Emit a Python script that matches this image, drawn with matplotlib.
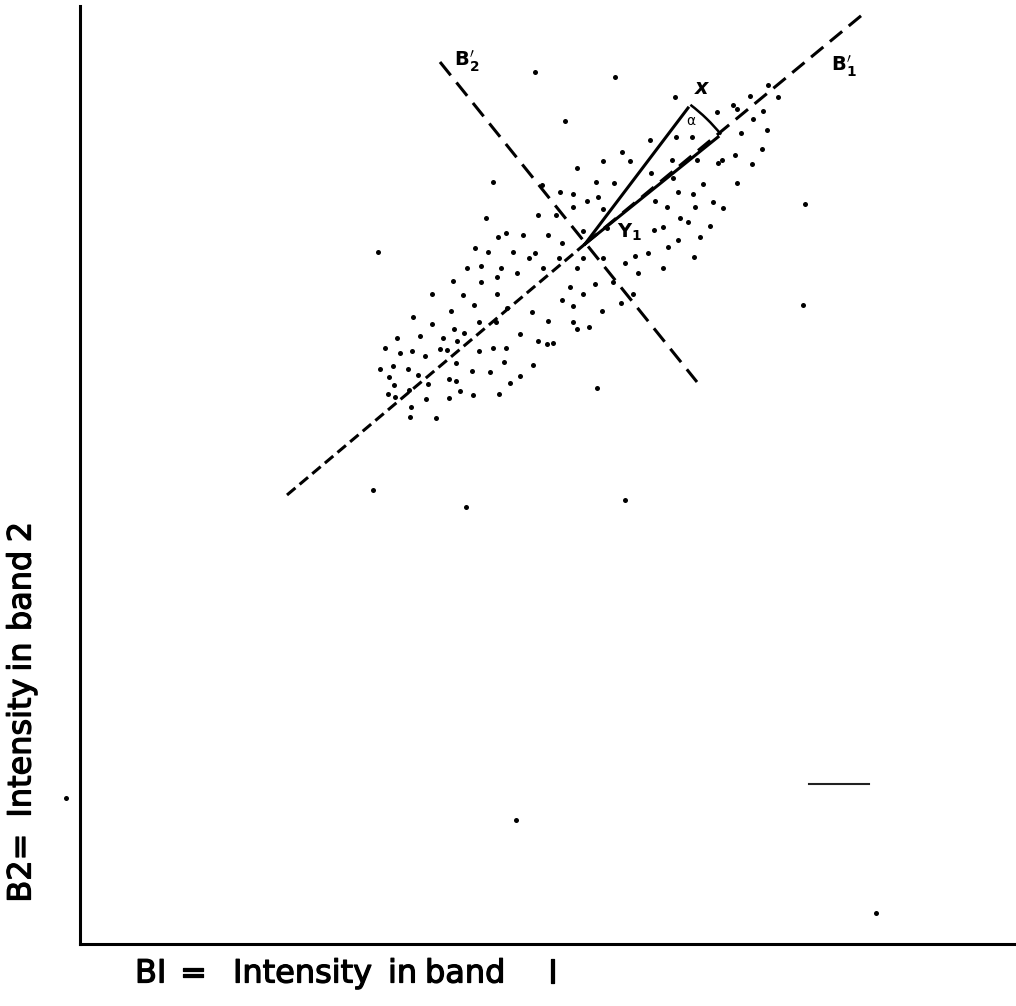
import numpy as np
import matplotlib
matplotlib.use("Agg")
import matplotlib.pyplot as plt
import matplotlib.patheffects as pe
from matplotlib.patches import Arc

# ---- data (intensity units: band 1 on x, band 2 on y) ----
cluster_b1 = [595, 637, 653, 657, 670, 688, 698, 683, 673, 687, 661, 570, 596, 612, 642,
              542, 523, 550, 497, 592, 617, 638, 655, 672, 682, 413, 516, 534, 571, 593,
              462, 480, 493, 507, 518, 598, 613, 623, 657, 575, 587, 615, 633, 643, 493,
              458, 476, 523, 406, 600, 608, 418, 426, 443, 468, 503, 527, 574, 583, 630,
              395, 408, 433, 455, 449, 482, 620, 598, 588, 568, 555, 614, 479, 503, 523,
              387, 401, 421, 437, 417, 463, 497, 545, 558, 583, 373, 401, 490, 515, 533,
              352, 383, 417, 503, 553, 541, 394, 482, 493, 522, 333, 371, 452, 427, 352,
              399, 416, 468, 493, 497, 509, 374, 384, 440, 317, 340, 363, 377, 458, 467,
              473, 305, 320, 332, 360, 367, 413, 426, 399, 313, 328, 345, 376, 424, 453,
              300, 309, 338, 369, 392, 410, 440, 430, 314, 348, 376, 517, 308, 315, 380,
              393, 419, 329, 346, 369, 331, 330, 356]
cluster_b2 = [847, 832, 839, 835, 848, 859, 847, 833, 825, 814, 811, 804, 807, 807, 784,
              792, 783, 783, 776, 784, 784, 781, 789, 780, 795, 762, 762, 761, 771, 766,
              759, 752, 750, 743, 747, 752, 750, 760, 761, 743, 737, 737, 742, 736, 737,
              729, 729, 735, 726, 726, 722, 707, 711, 709, 709, 713, 716, 714, 717, 718,
              696, 692, 692, 691, 686, 701, 707, 704, 697, 691, 688, 687, 686, 686, 686,
              676, 678, 676, 671, 667, 676, 676, 681, 671, 676, 663, 662, 657, 660, 662,
              650, 649, 650, 650, 650, 641, 639, 644, 638, 633, 627, 633, 632, 636, 620,
              622, 622, 623, 622, 615, 617, 615, 611, 610, 606, 608, 606, 603, 603, 600,
              601, 596, 591, 593, 595, 594, 596, 596, 593, 578, 575, 588, 581, 582, 579,
              575, 567, 569, 565, 573, 572, 568, 561, 559, 560, 563, 556, 550, 547, 553,
              549, 550, 554, 545, 546, 537, 527, 526]

outlier_b1 = [455, 535, 485, 298, 725, 723, 293, 386, 545, 436, 796, -14]
outlier_b2 = [872, 867, 823, 692, 740, 639, 454, 437, 444, 124, 31, 146]

# principal axes B1' and B2' (end points) and their crossing (cluster mean)
center = (505, 700)
b1_axis_low = (207, 449)
b1_axis_high = (782, 929)
b2_axis_ends = ([360, 617], [882, 562])

# pixel vector X and its projection Y1
vec_x = (608, 836)
vec_y1 = (638, 807)

# short reference tick at lower right
ref_b1 = [729, 789]
ref_b2 = [160, 160]

# caption words (left edge in px for band 1, centre height in px for band 2)
xcap_words = ["BI", "=", "Intensity", "in", "band", "I"]
xcap_left = [135, 180, 233, 388, 425, 548]
ycap_words = ["B2=", "Intensity", "in", "band", "2"]
ycap_mid = [868, 748, 657, 591, 532]

# ---- figure ----
W, H = 1016, 1006
fig = plt.figure(figsize=(W / 100, H / 100), dpi=100)
ax_left, ax_bottom, ax_top = 80, 944, 6
ax = fig.add_axes([ax_left / W, (H - ax_bottom) / H,
                   (W - ax_left) / W, (ax_bottom - ax_top) / H])
ax.set_xlim(0, W - ax_left)
ax.set_ylim(0, ax_bottom - ax_top)

ink = "black"
lw = 2.2
heavy = [pe.withStroke(linewidth=0.9, foreground=ink)]

for s in ("top", "right"):
    ax.spines[s].set_visible(False)
for s in ("left", "bottom"):
    ax.spines[s].set_linewidth(2.2)
    ax.spines[s].set_color(ink)
ax.set_xticks([])
ax.set_yticks([])

# B1' axis: tight dashes below the mean, longer dashes above it
ax.plot([b1_axis_low[0], center[0]], [b1_axis_low[1], center[1]],
        color=ink, lw=lw, linestyle=(0, (3.6, 1.8)))
ax.plot([center[0], b1_axis_high[0]], [center[1], b1_axis_high[1]],
        color=ink, lw=lw, linestyle=(0, (5.2, 2.8)))
# B2' axis
ax.plot(b2_axis_ends[0], b2_axis_ends[1], color=ink, lw=lw,
        linestyle=(0, (5.6, 3.0)))

# scatter of pixels
ax.plot(cluster_b1, cluster_b2, "o", color=ink, ms=3.6, mew=0)
ax.plot(outlier_b1, outlier_b2, "o", color=ink, ms=3.6, mew=0, clip_on=False)

# vectors X and Y1
ax.plot([center[0], vec_x[0]], [center[1], vec_x[1]], color=ink, lw=2.2)
ax.plot([center[0], vec_y1[0]], [center[1], vec_y1[1]], color=ink, lw=2.2)

# angle alpha between the vectors
ang_x = np.degrees(np.arctan2(vec_x[1] - center[1], vec_x[0] - center[0]))
ang_y = np.degrees(np.arctan2(vec_y1[1] - center[1], vec_y1[0] - center[0]))
r = np.hypot(vec_x[0] - center[0], vec_x[1] - center[1]) + 4
ax.add_patch(Arc(center, 2 * r, 2 * r, theta1=ang_y, theta2=ang_x,
                 color=ink, lw=1.8))

ax.plot(ref_b1, ref_b2, color="#222222", lw=1.5)

# annotations
ax.text(622, 856, "x", fontsize=15, fontstyle="italic", fontweight="bold",
        ha="center", va="center", color=ink)
ax.text(611, 823, "α", fontsize=10, ha="center", va="center", color=ink)
ax.text(550, 712, r"$\mathbf{Y}_{\mathbf{1}}$", fontsize=14,
        ha="center", va="center", color=ink)
ax.text(387, 883, r"$\mathbf{B}_{\mathbf{2}}^{\prime}$", fontsize=14,
        ha="center", va="center", color=ink)
ax.text(764, 878, r"$\mathbf{B}_{\mathbf{1}}^{\prime}$", fontsize=14,
        ha="center", va="center", color=ink)

# axis captions
for word, mid in zip(ycap_words, ycap_mid):
    fig.text(22 / W, 1 - mid / H, word, rotation=90, fontsize=23,
             ha="center", va="center", color=ink, path_effects=heavy)
for word, left in zip(xcap_words, xcap_left):
    fig.text(left / W, 1 - 974 / H, word, fontsize=23,
             ha="left", va="center", color=ink, path_effects=heavy)

fig.savefig("out.png", dpi=100, facecolor="white")
